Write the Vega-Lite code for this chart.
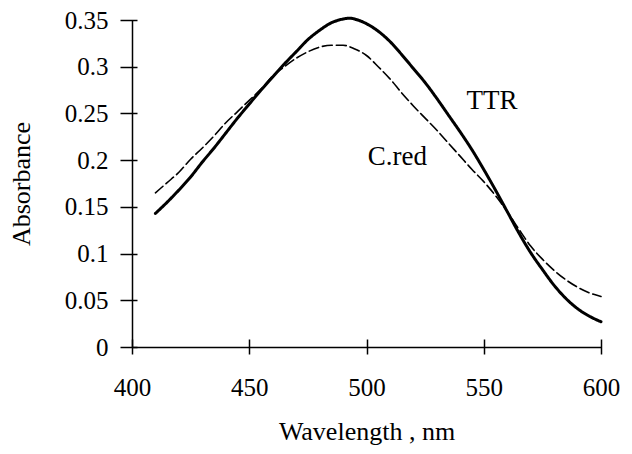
{
  "$schema": "https://vega.github.io/schema/vega-lite/v6.json",
  "width": 469,
  "height": 327,
  "autosize": {"type": "none"},
  "padding": {"left": 132, "top": 20, "right": 31, "bottom": 107},
  "background": "white",
  "config": {
    "view": {"stroke": null},
    "font": "Liberation Serif",
    "axis": {"grid": false, "domainColor": "black", "tickColor": "black", "labelColor": "black", "titleColor": "black", "labelFont": "Liberation Serif", "titleFont": "Liberation Serif", "titleFontWeight": "normal"}
  },
  "datasets": {
    "spectra": [
      {"wavelength": 410, "absorbance": 0.143, "sample": "TTR"},
      {"wavelength": 415, "absorbance": 0.155, "sample": "TTR"},
      {"wavelength": 420, "absorbance": 0.168, "sample": "TTR"},
      {"wavelength": 425, "absorbance": 0.182, "sample": "TTR"},
      {"wavelength": 430, "absorbance": 0.198, "sample": "TTR"},
      {"wavelength": 435, "absorbance": 0.213, "sample": "TTR"},
      {"wavelength": 440, "absorbance": 0.229, "sample": "TTR"},
      {"wavelength": 445, "absorbance": 0.245, "sample": "TTR"},
      {"wavelength": 450, "absorbance": 0.26, "sample": "TTR"},
      {"wavelength": 455, "absorbance": 0.275, "sample": "TTR"},
      {"wavelength": 460, "absorbance": 0.289, "sample": "TTR"},
      {"wavelength": 465, "absorbance": 0.303, "sample": "TTR"},
      {"wavelength": 470, "absorbance": 0.316, "sample": "TTR"},
      {"wavelength": 475, "absorbance": 0.329, "sample": "TTR"},
      {"wavelength": 480, "absorbance": 0.339, "sample": "TTR"},
      {"wavelength": 485, "absorbance": 0.347, "sample": "TTR"},
      {"wavelength": 490, "absorbance": 0.351, "sample": "TTR"},
      {"wavelength": 493, "absorbance": 0.352, "sample": "TTR"},
      {"wavelength": 495, "absorbance": 0.351, "sample": "TTR"},
      {"wavelength": 500, "absorbance": 0.346, "sample": "TTR"},
      {"wavelength": 505, "absorbance": 0.338, "sample": "TTR"},
      {"wavelength": 510, "absorbance": 0.327, "sample": "TTR"},
      {"wavelength": 515, "absorbance": 0.313, "sample": "TTR"},
      {"wavelength": 520, "absorbance": 0.298, "sample": "TTR"},
      {"wavelength": 525, "absorbance": 0.283, "sample": "TTR"},
      {"wavelength": 530, "absorbance": 0.266, "sample": "TTR"},
      {"wavelength": 535, "absorbance": 0.248, "sample": "TTR"},
      {"wavelength": 540, "absorbance": 0.23, "sample": "TTR"},
      {"wavelength": 545, "absorbance": 0.211, "sample": "TTR"},
      {"wavelength": 550, "absorbance": 0.19, "sample": "TTR"},
      {"wavelength": 555, "absorbance": 0.168, "sample": "TTR"},
      {"wavelength": 560, "absorbance": 0.145, "sample": "TTR"},
      {"wavelength": 565, "absorbance": 0.122, "sample": "TTR"},
      {"wavelength": 570, "absorbance": 0.101, "sample": "TTR"},
      {"wavelength": 575, "absorbance": 0.083, "sample": "TTR"},
      {"wavelength": 580, "absorbance": 0.066, "sample": "TTR"},
      {"wavelength": 585, "absorbance": 0.052, "sample": "TTR"},
      {"wavelength": 590, "absorbance": 0.041, "sample": "TTR"},
      {"wavelength": 595, "absorbance": 0.033, "sample": "TTR"},
      {"wavelength": 600, "absorbance": 0.027, "sample": "TTR"},
      {"wavelength": 410, "absorbance": 0.165, "sample": "C.red"},
      {"wavelength": 415, "absorbance": 0.176, "sample": "C.red"},
      {"wavelength": 420, "absorbance": 0.187, "sample": "C.red"},
      {"wavelength": 425, "absorbance": 0.201, "sample": "C.red"},
      {"wavelength": 430, "absorbance": 0.213, "sample": "C.red"},
      {"wavelength": 435, "absorbance": 0.226, "sample": "C.red"},
      {"wavelength": 440, "absorbance": 0.24, "sample": "C.red"},
      {"wavelength": 445, "absorbance": 0.252, "sample": "C.red"},
      {"wavelength": 450, "absorbance": 0.264, "sample": "C.red"},
      {"wavelength": 455, "absorbance": 0.276, "sample": "C.red"},
      {"wavelength": 460, "absorbance": 0.29, "sample": "C.red"},
      {"wavelength": 465, "absorbance": 0.3, "sample": "C.red"},
      {"wavelength": 470, "absorbance": 0.309, "sample": "C.red"},
      {"wavelength": 475, "absorbance": 0.316, "sample": "C.red"},
      {"wavelength": 480, "absorbance": 0.321, "sample": "C.red"},
      {"wavelength": 485, "absorbance": 0.323, "sample": "C.red"},
      {"wavelength": 490, "absorbance": 0.323, "sample": "C.red"},
      {"wavelength": 495, "absorbance": 0.319, "sample": "C.red"},
      {"wavelength": 500, "absorbance": 0.312, "sample": "C.red"},
      {"wavelength": 505, "absorbance": 0.3, "sample": "C.red"},
      {"wavelength": 510, "absorbance": 0.287, "sample": "C.red"},
      {"wavelength": 515, "absorbance": 0.272, "sample": "C.red"},
      {"wavelength": 520, "absorbance": 0.258, "sample": "C.red"},
      {"wavelength": 525, "absorbance": 0.245, "sample": "C.red"},
      {"wavelength": 530, "absorbance": 0.232, "sample": "C.red"},
      {"wavelength": 535, "absorbance": 0.218, "sample": "C.red"},
      {"wavelength": 540, "absorbance": 0.204, "sample": "C.red"},
      {"wavelength": 545, "absorbance": 0.19, "sample": "C.red"},
      {"wavelength": 550, "absorbance": 0.177, "sample": "C.red"},
      {"wavelength": 555, "absorbance": 0.162, "sample": "C.red"},
      {"wavelength": 560, "absorbance": 0.145, "sample": "C.red"},
      {"wavelength": 565, "absorbance": 0.126, "sample": "C.red"},
      {"wavelength": 570, "absorbance": 0.108, "sample": "C.red"},
      {"wavelength": 575, "absorbance": 0.094, "sample": "C.red"},
      {"wavelength": 580, "absorbance": 0.082, "sample": "C.red"},
      {"wavelength": 585, "absorbance": 0.072, "sample": "C.red"},
      {"wavelength": 590, "absorbance": 0.064, "sample": "C.red"},
      {"wavelength": 595, "absorbance": 0.058, "sample": "C.red"},
      {"wavelength": 600, "absorbance": 0.054, "sample": "C.red"}
    ],
    "labels": [
      {"wavelength": 553.5, "absorbance": 0.263, "label": "TTR"},
      {"wavelength": 513.2, "absorbance": 0.203, "label": "C.red"}
    ]
  },
  "resolve": {"axis": {"x": "independent", "y": "independent"}},
  "layer": [
    {
      "data": {"name": "spectra"},
      "mark": {"type": "line", "color": "black", "strokeCap": "round", "strokeJoin": "round", "interpolate": "monotone"},
      "encoding": {
        "x": {"field": "wavelength", "type": "quantitative", "scale": {"domain": [400, 600], "nice": false, "zero": false},
          "axis": {"orient": "bottom", "values": [400, 450, 500, 550, 600], "title": "Wavelength , nm", "labelFont": "Liberation Serif", "titleFont": "Liberation Serif", "labelFontSize": 25, "titleFontSize": 26, "ticks": false, "tickSize": 6, "labelPadding": 28, "titlePadding": 18, "domainWidth": 1.5, "labelFlush": false}},
        "y": {"field": "absorbance", "type": "quantitative", "scale": {"domain": [0, 0.35], "nice": false},
          "axis": {"orient": "left", "values": [0, 0.05, 0.1, 0.15, 0.2, 0.25, 0.3, 0.35], "format": "~g", "title": "Absorbance", "labelFont": "Liberation Serif", "titleFont": "Liberation Serif", "labelFontSize": 25, "titleFontSize": 26, "ticks": false, "tickSize": 8, "labelPadding": 24, "titlePadding": 30, "domainWidth": 1.5, "labelFlush": false}},
        "detail": {"field": "sample", "type": "nominal"},
        "strokeWidth": {"field": "sample", "type": "nominal", "scale": {"domain": ["TTR", "C.red"], "range": [3, 1.6]}, "legend": null},
        "strokeDash": {"field": "sample", "type": "nominal", "scale": {"domain": ["TTR", "C.red"], "range": [[1, 0], [10, 4]]}, "legend": null}
      }
    },
    {
      "data": {"name": "labels"},
      "mark": {"type": "text", "font": "Liberation Serif", "fontSize": 27, "color": "black", "align": "center", "baseline": "middle"},
      "encoding": {
        "x": {"field": "wavelength", "type": "quantitative",
          "axis": {"orient": "bottom", "values": [400, 450, 500, 550, 600], "labels": false, "title": null, "domain": false, "tickSize": 15, "offset": -8, "tickWidth": 1.5}},
        "y": {"field": "absorbance", "type": "quantitative",
          "axis": {"orient": "left", "values": [0, 0.05, 0.1, 0.15, 0.2, 0.25, 0.3, 0.35], "labels": false, "title": null, "domain": false, "tickSize": 17, "offset": -5, "tickWidth": 1.5}},
        "text": {"field": "label", "type": "nominal"}
      }
    }
  ]
}
